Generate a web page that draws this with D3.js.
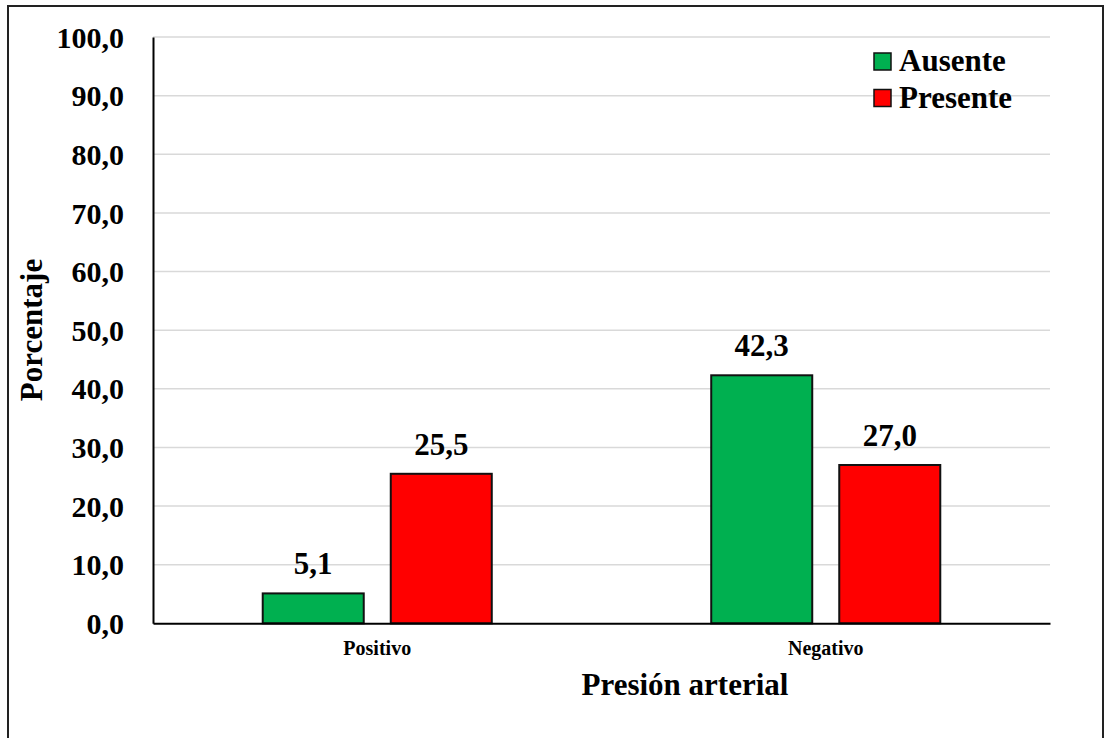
<!DOCTYPE html>
<html>
<head>
<meta charset="utf-8">
<script src="https://cdn.jsdelivr.net/npm/d3@7"></script>
<style>
  html, body { margin: 0; padding: 0; background: #fff; }
  svg { display: block; font-family: "Liberation Serif", "Times New Roman", serif; font-weight: bold; }
</style>
</head>
<body>
<svg id="chart" width="1106" height="738"></svg>
<script>
const categories = ["Positivo", "Negativo"];
const seriesNames = ["Ausente", "Presente"];
const ausente = [5.1, 42.3];
const presente = [25.5, 27.0];
const yTicks = [0, 10, 20, 30, 40, 50, 60, 70, 80, 90, 100];
const colors = ["#00B050", "#FF0000"];
const yTitle = "Porcentaje";
const xTitle = "Presión arterial";

const values = [ausente, presente];
const fmt = v => v.toFixed(1).replace(".", ",");

const svg = d3.select("#chart");
const plotLeft = 153, plotRight = 1050, plotTop = 37, plotBottom = 623.3;

// outer border
svg.append("rect").attr("x", 8).attr("y", 6).attr("width", 1095).attr("height", 740)
  .attr("fill", "#fff").attr("stroke", "#222").attr("stroke-width", 2);

const y = d3.scaleLinear().domain([0, 100]).range([plotBottom, plotTop]);
const x0 = d3.scaleBand().domain(categories).range([plotLeft, plotRight]).padding(0);
const x1 = d3.scaleBand().domain(seriesNames).range([0, x0.bandwidth()])
  .paddingInner(0.211).paddingOuter(0.857);

// gridlines
svg.append("g").selectAll("line").data(yTicks.filter(t => t > 0)).join("line")
  .attr("x1", plotLeft).attr("x2", plotRight)
  .attr("y1", d => y(d)).attr("y2", d => y(d))
  .attr("stroke", "#d9d9d9").attr("stroke-width", 1.5);

// y axis
const yAxis = d3.axisLeft(y).tickValues(yTicks).tickFormat(fmt).tickSize(0).tickPadding(29);
const gy = svg.append("g").attr("transform", `translate(${plotLeft},0)`).call(yAxis);
gy.select(".domain").attr("stroke", "#000").attr("stroke-width", 2);
gy.selectAll("text").attr("font-size", 30).attr("font-family", "Liberation Serif")
  .attr("font-weight", "bold").attr("fill", "#000").attr("dy", "0.34em");

// bars
const groups = svg.append("g").selectAll("g").data(categories).join("g")
  .attr("transform", d => `translate(${x0(d)},0)`);
groups.selectAll("rect")
  .data((c, i) => seriesNames.map((s, j) => ({ s, j, v: values[j][i] })))
  .join("rect")
  .attr("x", d => x1(d.s)).attr("width", x1.bandwidth())
  .attr("y", d => y(d.v)).attr("height", d => y(0) - y(d.v))
  .attr("fill", d => colors[d.j]).attr("stroke", "#111").attr("stroke-width", 2);
groups.selectAll("text.lbl")
  .data((c, i) => seriesNames.map((s, j) => ({ s, j, v: values[j][i] })))
  .join("text").attr("class", "lbl")
  .attr("x", d => x1(d.s) + x1.bandwidth() / 2).attr("y", d => y(d.v) - 19)
  .attr("text-anchor", "middle").attr("font-size", 31).attr("fill", "#000")
  .text(d => fmt(d.v));

// x axis
const xAxis = d3.axisBottom(x0).tickSize(0).tickPadding(18);
const gx = svg.append("g").attr("transform", `translate(0,${plotBottom})`).call(xAxis);
gx.select(".domain").attr("stroke", "#000").attr("stroke-width", 2);
gx.selectAll("text").attr("font-size", 20).attr("font-family", "Liberation Serif")
  .attr("font-weight", "bold").attr("fill", "#000");

// axis titles
svg.append("text").attr("x", 685).attr("y", 695).attr("text-anchor", "middle")
  .attr("font-size", 31).text(xTitle);
svg.append("text").attr("transform", "translate(42,330) rotate(-90)")
  .attr("text-anchor", "middle").attr("font-size", 31).text(yTitle);

// legend
const lg = svg.append("g").selectAll("g").data(seriesNames).join("g")
  .attr("transform", (d, i) => `translate(874,${53 + i * 36.5})`);
lg.append("rect").attr("width", 17).attr("height", 17)
  .attr("fill", (d, i) => colors[i]).attr("stroke", "#111").attr("stroke-width", 1.5);
lg.append("text").attr("x", 25).attr("y", 18).attr("font-size", 31).text(d => d);
</script>
</body>
</html>
